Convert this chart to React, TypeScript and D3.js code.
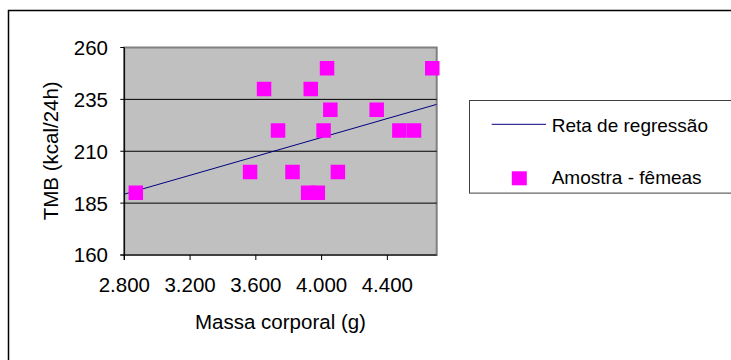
import React from "react";
import * as d3 from "d3";

const massa = [2870, 3565, 3650, 3735, 3823, 3918, 3934, 3977, 4012, 4033, 4053, 4099, 4335, 4473, 4562, 4673];
const tmb = [190, 200, 240, 220, 200, 190, 240, 190, 220, 250, 230, 200, 230, 220, 220, 250];
const regX = [2800, 4700];
const regY = [189.3, 232.6];
const xTicks = [2800, 3200, 3600, 4000, 4400];
const yTicks = [160, 185, 210, 235, 260];
const legendLabels = ["Reta de regressão", "Amostra - fêmeas"];
const xTitle = "Massa corporal (g)";
const yTitle = "TMB (kcal/24h)";

const fmtX = (v: number) => d3.format(",.3f")(v / 1000).replace(",", "");

export default function App() {
  const W = 731, H = 360;
  const L = 124.3, R = 436.7, T = 47.5, B = 255;
  const x = d3.scaleLinear().domain([2800, 4700]).range([L, R]);
  const y = d3.scaleLinear().domain([160, 260]).range([B, T]);
  const line = d3.line<number>().x((_, i) => x(regX[i])).y((d) => y(d));
  const font = "'Liberation Sans', Arial, sans-serif";
  const ms = 14.5;
  return (
    <div style={{ position: "absolute", left: 0, top: 0 }}>
      <svg width={W} height={H} style={{ display: "block", fontFamily: font }}>
        <rect x={0} y={0} width={W} height={H} fill="#fff" />
        <rect x={8.5} y={10.5} width={760} height={400} fill="none" stroke="#000" strokeWidth={1.5} />
        <defs>
          <clipPath id="plotclip">
            <rect x={L} y={T} width={R - L} height={B - T} />
          </clipPath>
        </defs>
        <rect x={L} y={T} width={R - L} height={B - T} fill="#C0C0C0" stroke="#808080" strokeWidth={2} />
        {yTicks.filter((t) => t !== 160 && t !== 260).map((t) => (
          <line key={t} x1={L} x2={R} y1={y(t)} y2={y(t)} stroke="#000" strokeWidth={1} />
        ))}
        <line x1={L} x2={L} y1={T} y2={B + 5} stroke="#000" strokeWidth={1.2} />
        <line x1={L - 4} x2={R} y1={B} y2={B} stroke="#000" strokeWidth={1.2} />
        {yTicks.map((t) => (
          <g key={t}>
            <line x1={L - 4} x2={L} y1={y(t)} y2={y(t)} stroke="#000" />
            <text x={108} y={y(t)} dy="0.36em" textAnchor="end" fontSize={20.5} fill="#000">{t}</text>
          </g>
        ))}
        {xTicks.map((t) => (
          <g key={t}>
            <line x1={x(t)} x2={x(t)} y1={B} y2={B + 5} stroke="#000" />
            <text x={x(t)} y={291.7} textAnchor="middle" fontSize={20.5} fill="#000">{fmtX(t)}</text>
          </g>
        ))}
        <g clipPath="url(#plotclip)">
          <path d={line(regY) || ""} fill="none" stroke="#000080" strokeWidth={1} />
        </g>
        {massa.map((m, i) => (
          <rect key={i} x={x(m) - ms / 2} y={y(tmb[i]) - ms / 2} width={ms} height={ms} fill="#FF00FF" />
        ))}
        <text x={(L + R) / 2} y={328.5} textAnchor="middle" fontSize={20.5} fill="#000">{xTitle}</text>
        <text transform={`translate(58,150.8) rotate(-90)`} textAnchor="middle" fontSize={20.5} fill="#000">{yTitle}</text>
        <rect x={469.5} y={100.5} width={300} height={92.6} fill="#fff" stroke="#404040" strokeWidth={1} />
        <line x1={491.7} x2={546} y1={124.3} y2={124.3} stroke="#000080" strokeWidth={1} />
        <text x={551.7} y={131.7} fontSize={19} fill="#000">{legendLabels[0]}</text>
        <rect x={519.3 - 7.5} y={178.3 - 7} width={15} height={14} fill="#FF00FF" />
        <text x={551.7} y={184} fontSize={19} fill="#000">{legendLabels[1]}</text>
      </svg>
    </div>
  );
}
